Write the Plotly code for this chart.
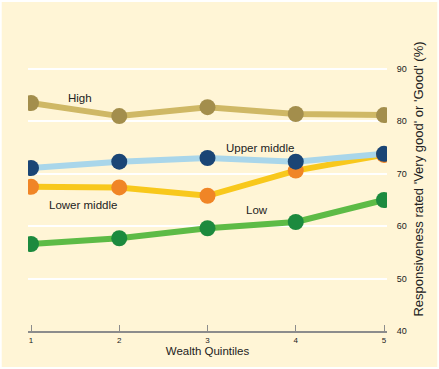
import plotly.graph_objects as go

quintiles = [1, 2, 3, 4, 5]
high = [83.5, 81.0, 82.7, 81.4, 81.2]
upper_middle = [71.1, 72.3, 73.0, 72.3, 73.8]
lower_middle = [67.5, 67.4, 65.8, 70.6, 73.6]
low = [56.6, 57.7, 59.6, 60.8, 65.0]

series = [
    # name, values, line colour, marker colour
    ("Low", low, "#5DBB46", "#1C8A3E"),
    ("High", high, "#CFB865", "#A38E4C"),
    ("Lower middle", lower_middle, "#F8C81C", "#F08526"),
    ("Upper middle", upper_middle, "#A9D6EA", "#1A4575"),
]

bg = "#FFF5D6"
fig = go.Figure()

# lines first, then markers on top
for name, vals, lc, mc in series:
    fig.add_trace(go.Scatter(x=quintiles, y=vals, mode="lines",
                             line=dict(color=lc, width=6), showlegend=False,
                             hoverinfo="skip"))
for name, vals, lc, mc in series:
    fig.add_trace(go.Scatter(x=quintiles, y=vals, mode="markers", name=name,
                             marker=dict(color=mc, size=16), showlegend=False))

labels = [
    ("High", 1.56, 84.4),
    ("Upper middle", 3.59, 74.9),
    ("Lower middle", 1.59, 64.1),
    ("Low", 3.56, 63.1),
]
for text, x, y in labels:
    fig.add_annotation(x=x, y=y, text=text, showarrow=False,
                       font=dict(size=11.5, color="#222222"))

fig.update_layout(
    width=439, height=369,
    margin=dict(l=28, r=52, t=27, b=38),
    paper_bgcolor=bg, plot_bgcolor=bg,
    font=dict(family="Liberation Sans, Arial, sans-serif", color="#222222"),
    xaxis=dict(range=[0.966, 5.034], tickvals=quintiles,
               ticktext=[str(q) for q in quintiles],
               showgrid=False, zeroline=False,
               showline=True, linecolor="#8C8C8C", linewidth=2,
               ticks="inside", ticklen=6, tickcolor="#8C8C8C", tickwidth=1,
               tickfont=dict(size=8),
               title=dict(text="Wealth Quintiles", font=dict(size=11.5), standoff=2)),
    yaxis=dict(range=[40, 98], side="right", tickvals=[40, 50, 60, 70, 80, 90],
               showgrid=True, gridcolor="#FFFFFF", gridwidth=1.5,
               zeroline=False, showline=False,
               ticks="outside", ticklen=7, tickcolor=bg,
               tickfont=dict(size=9),
               title=dict(text="Responsiveness rated 'Very good' or 'Good' (%)",
                          font=dict(size=13), standoff=8)),
)

# thin white frame round the whole figure
fig.add_shape(type="rect", xref="paper", yref="paper",
              x0=-28 / 359 + 0.002, x1=1 + 52 / 359 - 0.002,
              y0=-38 / 304 + 0.003, y1=1 + 27 / 304 - 0.003,
              line=dict(color="#FFFFFF", width=2), layer="below")

fig.write_html("out.html")
